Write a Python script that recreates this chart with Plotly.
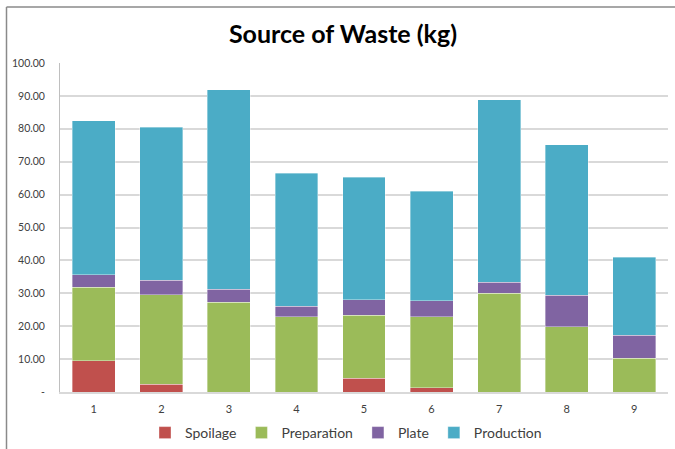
import plotly.graph_objects as go

# Waste by source (kg) for nine collection days
days = ["1", "2", "3", "4", "5", "6", "7", "8", "9"]
spoilage = [9.5, 2.3, 0, 0, 4.2, 1.3, 0, 0, 0]
preparation = [22.4, 27.2, 27.3, 22.9, 19.2, 21.5, 30.0, 19.8, 10.3]
plate = [3.7, 4.4, 4.0, 3.2, 4.6, 5.0, 3.4, 9.6, 6.9]
production = [46.9, 46.5, 60.6, 40.4, 37.2, 33.2, 55.5, 45.8, 23.8]

y_tick_vals = [0, 10, 20, 30, 40, 50, 60, 70, 80, 90, 100]
y_tick_text = ["-", "10.00", "20.00", "30.00", "40.00", "50.00",
               "60.00", "70.00", "80.00", "90.00", "100.00"]

series = [
    ("Spoilage", spoilage, "#C0504D"),
    ("Preparation", preparation, "#9BBB59"),
    ("Plate", plate, "#8064A2"),
    ("Production", production, "#4BACC6"),
]

W, H = 675, 449
L, R, T, B = 60, 7, 63, 57

fig = go.Figure()
for name, vals, color in series:
    fig.add_trace(go.Bar(
        x=days, y=vals, name=name,
        marker=dict(color=color, line=dict(color="rgba(255,255,255,0.45)", width=0.8)),
    ))

pw = W - L - R
ph = H - T - B
# outer chart frame (left and top edges)
fx0 = (6.5 - L) / pw
fy1 = 1 + (T - 7) / ph
fy0 = -(B + 5) / ph
fx1 = 1 + (R + 5) / pw
fig.add_shape(type="line", xref="paper", yref="paper", x0=fx0, x1=fx0, y0=fy0, y1=fy1,
              line=dict(color="#8a8a8a", width=1.5))
fig.add_shape(type="line", xref="paper", yref="paper", x0=fx0, x1=fx1, y0=fy1, y1=fy1,
              line=dict(color="#8a8a8a", width=1.5))

fig.update_layout(
    width=W, height=H,
    margin=dict(l=L, r=R, t=T, b=B, pad=0, autoexpand=False),
    barmode="stack",
    bargap=0.365,
    paper_bgcolor="white",
    plot_bgcolor="white",
    font=dict(family="Lato, Open Sans, sans-serif", color="#404040"),
    title=dict(text="<b>Source of Waste (kg)</b>", x=343 / W, xref="container", xanchor="center",
               y=1 - 34 / H, yanchor="middle",
               font=dict(size=25, color="black", family="Lato, sans-serif")),
    legend=dict(orientation="h", x=346 / W, xref="container", xanchor="center",
                y=1 - 433 / H, yref="container", yanchor="middle",
                font=dict(size=14, color="#404040"), traceorder="normal",
                itemwidth=30, tracegroupgap=0),
    showlegend=True,
)
fig.update_xaxes(showgrid=False, showline=True, linecolor="#d9d9d9", linewidth=1.5,
                 ticks="", tickfont=dict(size=11, color="#404040"), ticklabelstandoff=6)
fig.update_yaxes(range=[0, 100], tickvals=y_tick_vals, ticktext=y_tick_text,
                 showgrid=True, gridcolor="#d9d9d9", gridwidth=1.5,
                 showline=True, linecolor="#bfbfbf", linewidth=1, mirror=False,
                 ticks="", tickfont=dict(size=10.5, color="#404040"), ticklabelstandoff=12,
                 zeroline=False)

fig.write_html("out.html")
